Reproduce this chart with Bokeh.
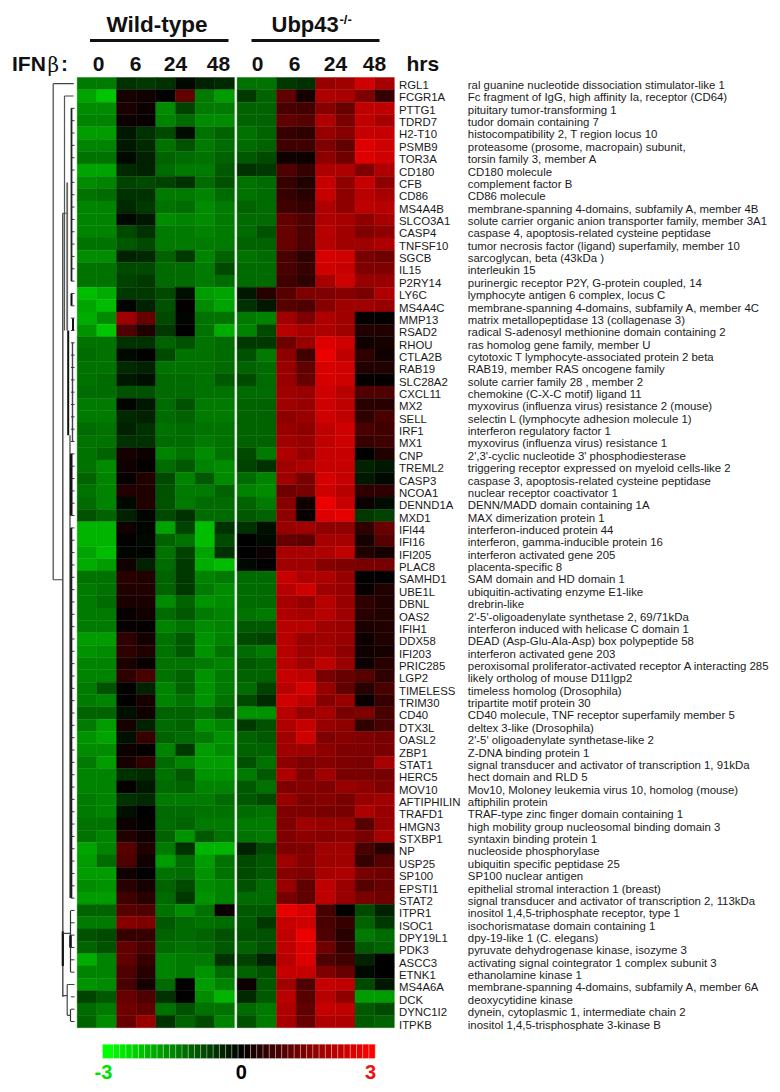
from bokeh.plotting import figure
from bokeh.models import Range1d, ColumnDataSource
from bokeh.transform import linear_cmap
from bokeh.core.properties import value
from bokeh.embed import file_html
from bokeh.resources import INLINE

genes = ["RGL1","FCGR1A","PTTG1","TDRD7","H2-T10","PSMB9","TOR3A","CD180","CFB","CD86","MS4A4B","SLCO3A1","CASP4","TNFSF10","SGCB","IL15","P2RY14","LY6C","MS4A4C","MMP13","RSAD2","RHOU","CTLA2B","RAB19","SLC28A2","CXCL11","MX2","SELL","IRF1","MX1","CNP","TREML2","CASP3","NCOA1","DENND1A","MXD1","IFI44","IFI16","IFI205","PLAC8","SAMHD1","UBE1L","DBNL","OAS2","IFIH1","DDX58","IFI203","PRIC285","LGP2","TIMELESS","TRIM30","CD40","DTX3L","OASL2","ZBP1","STAT1","HERC5","MOV10","AFTIPHILIN","TRAFD1","HMGN3","STXBP1","NP","USP25","SP100","EPSTI1","STAT2","ITPR1","ISOC1","DPY19L1","PDK3","ASCC3","ETNK1","MS4A6A","DCK","DYNC1I2","ITPKB"]

descriptions = ["ral guanine nucleotide dissociation stimulator-like 1","Fc fragment of IgG, high affinity Ia, receptor (CD64)","pituitary tumor-transforming 1","tudor domain containing 7","histocompatibility 2, T region locus 10","proteasome (prosome, macropain) subunit,","torsin family 3, member A","CD180 molecule","complement factor B","CD86 molecule","membrane-spanning 4-domains, subfamily A, member 4B","solute carrier organic anion transporter family, member 3A1","caspase 4, apoptosis-related cysteine peptidase","tumor necrosis factor (ligand) superfamily, member 10","sarcoglycan, beta (43kDa )","interleukin 15","purinergic receptor P2Y, G-protein coupled, 14","lymphocyte antigen 6 complex, locus C","membrane-spanning 4-domains, subfamily A, member 4C","matrix metallopeptidase 13 (collagenase 3)","radical S-adenosyl methionine domain containing 2","ras homolog gene family, member U","cytotoxic T lymphocyte-associated protein 2 beta","RAB19, member RAS oncogene family","solute carrier family 28 , member 2","chemokine (C-X-C motif) ligand 11","myxovirus (influenza virus) resistance 2 (mouse)","selectin L (lymphocyte adhesion molecule 1)","interferon regulatory factor 1","myxovirus (influenza virus) resistance 1","2',3'-cyclic nucleotide 3' phosphodiesterase","triggering receptor expressed on myeloid cells-like 2","caspase 3, apoptosis-related cysteine peptidase","nuclear receptor coactivator 1","DENN/MADD domain containing 1A","MAX dimerization protein 1","interferon-induced protein 44","interferon, gamma-inducible protein 16","interferon activated gene 205","placenta-specific 8","SAM domain and HD domain 1","ubiquitin-activating enzyme E1-like","drebrin-like","2'-5'-oligoadenylate synthetase 2, 69/71kDa","interferon induced with helicase C domain 1","DEAD (Asp-Glu-Ala-Asp) box polypeptide 58","interferon activated gene 203","peroxisomal proliferator-activated receptor A interacting 285","likely ortholog of mouse D11lgp2","timeless homolog (Drosophila)","tripartite motif protein 30","CD40 molecule, TNF receptor superfamily member 5","deltex 3-like (Drosophila)","2'-5' oligoadenylate synthetase-like 2","Z-DNA binding protein 1","signal transducer and activator of transcription 1, 91kDa","hect domain and RLD 5","Mov10, Moloney leukemia virus 10, homolog (mouse)","aftiphilin protein","TRAF-type zinc finger domain containing 1","high mobility group nucleosomal binding domain 3","syntaxin binding protein 1","nucleoside phosphorylase","ubiquitin specific peptidase 25","SP100 nuclear antigen","epithelial stromal interaction 1 (breast)","signal transducer and activator of transcription 2, 113kDa","inositol 1,4,5-triphosphate receptor, type 1","isochorismatase domain containing 1","dpy-19-like 1 (C. elegans)","pyruvate dehydrogenase kinase, isozyme 3","activating signal cointegrator 1 complex subunit 3","ethanolamine kinase 1","membrane-spanning 4-domains, subfamily A, member 6A","deoxycytidine kinase","dynein, cytoplasmic 1, intermediate chain 2","inositol 1,4,5-trisphosphate 3-kinase B"]

time_labels = ["0", "6", "24", "48"]

wild_type_values = [
[-1.5,-1.5,-0.6,-0.7,-0.6,-0.1,-0.4,-0.5],
[-2.0,-2.4,0.3,0.2,0,1.2,-1.5,-1.9],
[-1.7,-1.7,0.35,0.15,-1.7,-0.8,-1.5,-1.5],
[-1.6,-1.6,0.15,0.1,-1.6,-1.3,-1.7,-1.7],
[-1.9,-1.9,-0.3,-0.6,-0.9,-0.15,-1.4,-1.2],
[-1.6,-1.6,-0.3,-0.5,-1.4,-1.0,-1.5,-1.3],
[-1.4,-1.4,-0.1,-0.4,-1.2,-1.3,-1.4,-1.2],
[-2.0,-2.0,-0.5,-0.4,-1.3,-1.5,-1.5,-1.1],
[-1.7,-1.6,-0.8,-0.9,-0.8,-0.6,-1.3,-1.0],
[-1.4,-1.3,-0.6,-0.6,-1.5,-1.5,-1.6,-1.3],
[-1.6,-1.6,-0.5,-0.7,-1.4,-1.3,-1.7,-1.5],
[-1.6,-1.6,-0.1,-0.3,-1.7,-1.6,-1.7,-1.5],
[-1.6,-1.6,-0.9,-0.6,-1.5,-1.5,-1.6,-1.5],
[-1.4,-1.4,-1.1,-0.9,-1.5,-1.5,-1.5,-1.5],
[-1.7,-1.7,-0.4,-0.5,-1.2,-0.7,-1.6,-1.2],
[-1.4,-1.4,-0.9,-0.9,-1.3,-1.3,-1.5,-0.9],
[-1.4,-1.4,-0.8,-0.7,-1.3,-1.3,-1.5,-1.3],
[-2.3,-2.1,-0.7,-0.7,-0.9,-0.2,-1.9,-2.0],
[-2.0,-2.3,-0.05,-0.4,-1.0,0.05,-1.7,-2.0],
[-2.1,-1.7,2.0,1.3,-0.9,-0.05,-1.4,-1.4],
[-1.8,-2.4,1.0,0.4,-0.7,0,-1.4,-2.1],
[-1.4,-1.4,-0.6,-0.6,-1.2,-1.0,-1.4,-1.3],
[-1.3,-1.4,-0.1,0.02,-0.9,-1.4,-1.4,-1.3],
[-1.4,-1.4,-0.5,-0.4,-1.4,-1.4,-1.4,-1.3],
[-1.4,-1.3,-0.3,-0.2,-1.3,-1.3,-1.4,-1.1],
[-1.3,-1.3,-1.0,-1.0,-1.3,-1.3,-1.4,-1.4],
[-1.5,-1.5,-0.05,-0.3,-1.3,-1.0,-1.5,-1.5],
[-1.5,-1.5,-0.5,-0.4,-1.3,-1.2,-1.5,-1.5],
[-1.3,-1.4,-0.4,-0.6,-1.4,-1.3,-1.4,-1.4],
[-1.4,-1.4,-0.6,-0.6,-1.3,-1.3,-1.5,-1.4],
[-1.4,-1.2,0.3,0.15,-1.6,-1.4,-1.7,-1.4],
[-1.4,-1.7,0.2,0.05,-1.3,-1.1,-1.6,-1.7],
[-1.2,-1.6,0.1,0.4,-0.9,-1.6,-1.1,-1.7],
[-1.4,-1.6,0.4,0.4,-1.0,-1.5,-1.5,-1.2],
[-1.3,-1.6,-0.1,0.4,-1.0,-1.5,-1.3,-1.3],
[-1.0,-1.2,-0.4,-0.05,-0.9,-0.6,-1.3,-1.3],
[-2.2,-2.2,0.2,-0.05,-2.0,-0.8,-2.3,-0.6],
[-2.2,-2.2,0.05,-0.1,-1.2,-1.4,-2.3,-0.9],
[-2.0,-2.3,-0.05,-0.05,-1.4,-0.8,-2.0,-0.6],
[-2.1,-1.9,0.2,-0.4,-1.3,-0.7,-2.1,-2.3],
[-1.4,-1.4,0.5,0.4,-1.2,-0.7,-1.6,-1.5],
[-1.5,-1.4,0.4,0.4,-1.2,-0.7,-1.5,-1.7],
[-1.5,-1.3,0.35,0.35,-1.7,-1.2,-1.8,-1.7],
[-1.5,-1.5,0.1,0.2,-1.3,-1.1,-1.5,-1.6],
[-1.5,-1.5,0.1,0.03,-1.6,-1.4,-1.7,-1.6],
[-1.9,-1.9,0.6,0.25,-1.4,-1.1,-1.8,-1.6],
[-1.8,-1.7,0.6,0.4,-1.4,-1.1,-1.8,-1.4],
[-1.6,-1.6,0.35,0.1,-1.4,-1.4,-1.5,-1.6],
[-1.6,-1.6,0.6,0.9,-1.4,-1.2,-1.8,-1.5],
[-1.5,-1.0,0.03,-0.4,-1.6,-1.2,-1.8,-1.5],
[-1.5,-1.6,0.03,0.3,-1.6,-1.4,-1.8,-1.4],
[-1.2,-1.2,-0.2,0.2,-1.2,-1.2,-1.4,-1.1],
[-1.5,-1.9,0.3,-0.4,-1.3,-1.2,-1.8,-1.6],
[-1.8,-2.0,-0.2,0.7,-1.2,-1.3,-1.5,-1.8],
[-1.7,-1.7,0.15,0.05,-1.6,-0.7,-1.9,-1.7],
[-1.5,-1.9,0.3,0.6,-1.3,-1.6,-1.9,-1.9],
[-1.6,-1.6,-0.6,-0.5,-1.4,-1.1,-1.8,-1.8],
[-1.6,-1.6,0.05,-0.3,-1.3,-1.2,-1.6,-1.6],
[-1.5,-1.6,-0.6,-0.5,-1.5,-1.5,-1.5,-1.3],
[-1.5,-1.6,-0.2,0,-1.3,-1.3,-1.4,-1.4],
[-1.4,-1.4,0.15,0.03,-1.3,-1.2,-1.5,-1.5],
[-1.4,-1.6,0.4,0.2,-1.2,-1.8,-1.1,-1.4],
[-2.0,-1.6,1.1,0.4,-1.5,-0.6,-2.2,-2.2],
[-1.9,-1.3,1.0,0.2,-1.9,-1.3,-1.9,-1.4],
[-1.9,-1.9,0.2,0.02,-1.4,-1.3,-1.8,-1.4],
[-1.7,-1.8,0.5,0.3,-1.2,-0.9,-1.7,-1.6],
[-1.9,-1.9,0.8,0.5,-1.3,-0.7,-1.8,-1.6],
[-1.2,-1.2,1.1,1.0,-1.4,-1.7,-1.4,0.15],
[-1.5,-1.5,1.7,1.6,-1.1,-1.3,-1.4,-1.3],
[-1.0,-0.9,0.7,0.7,-1.2,-1.3,-1.2,-1.0],
[-1.2,-1.0,1.2,0.9,-1.3,-1.4,-1.3,-1.1],
[-2.1,-1.6,1.2,0.7,-1.6,-1.5,-1.5,-0.6],
[-1.6,-1.6,1.0,0.5,-1.6,-1.5,-1.8,-1.3],
[-1.8,-1.7,0.9,0.3,-1.3,0,-1.9,-1.6],
[-0.8,-1.1,1.3,1.0,-0.6,0,-1.7,-2.2],
[-1.3,-1.5,1.4,1.2,-1.4,-1.0,-1.4,-1.4],
[-1.2,-1.7,1.3,1.9,-0.6,-1.2,-0.9,-1.6],
]

ubp43_values = [
[-1.4,-1.4,-0.7,-0.6,1.9,2.0,2.6,2.1],
[-0.7,-1.2,1.2,0.3,2.2,2.1,1.6,0.7],
[-1.2,-1.2,0.9,0.85,1.7,1.3,2.4,2.4],
[-1.2,-1.2,1.2,1.1,2.2,1.5,2.4,2.1],
[-1.4,-1.2,0.7,0.6,1.9,1.7,2.5,2.5],
[-1.3,-1.2,0.8,0.8,1.6,1.2,2.8,2.6],
[-1.1,-0.9,0.2,0.15,1.8,1.4,2.8,2.6],
[-0.6,-0.7,1.0,0.7,2.2,2.2,1.6,2.2],
[-1.4,-1.3,0.7,0.4,2.5,1.8,2.5,1.8],
[-1.4,-1.3,0.7,0.5,2.5,1.8,2.3,2.1],
[-1.2,-1.3,0.8,0.7,2.2,1.8,2.4,2.3],
[-1.3,-1.3,1.2,1.0,2.2,2.1,1.8,2.1],
[-1.3,-1.0,1.3,1.0,2.3,2.0,1.6,1.8],
[-1.2,-1.2,1.3,1.0,2.3,2.0,2.0,2.2],
[-1.4,-1.3,0.9,0.6,2.7,2.6,1.5,1.4],
[-1.3,-1.3,0.9,0.7,2.6,2.5,1.6,1.6],
[-1.3,-1.3,0.8,0.6,2.1,2.6,1.9,1.9],
[-0.3,0.5,1.1,1.6,1.6,1.7,1.5,2.2],
[-0.6,-0.3,1.1,1.0,1.7,2.0,2.0,1.9],
[-1.5,-1.6,2.0,1.6,2.2,2.0,0.05,0.05],
[-1.6,-0.9,2.3,2.1,2.2,2.0,0.4,0.4],
[-0.7,-0.7,1.4,1.9,2.8,2.6,0.2,0.3],
[-1.0,-1.5,1.8,0.8,3.0,2.4,0.6,0.2],
[-1.2,-1.3,1.9,1.2,2.7,2.6,0.4,0.4],
[-0.9,-1.3,1.9,1.3,2.7,2.6,0.05,0.05],
[-1.3,-1.3,2.0,1.9,2.6,2.3,1.0,1.0],
[-1.2,-1.2,2.0,1.9,2.6,2.4,0.5,0.5],
[-1.2,-1.2,1.8,1.9,2.6,2.4,0.6,0.9],
[-1.2,-1.2,1.9,1.8,2.4,2.6,0.9,0.8],
[-1.2,-1.2,2.0,1.9,2.4,2.6,0.7,0.8],
[-0.9,-1.5,2.2,1.9,2.5,2.5,0.02,0.4],
[-0.8,-0.6,2.0,2.2,2.5,2.5,-0.4,-0.3],
[-1.3,-1.6,2.0,1.5,2.7,2.5,-0.3,-0.1],
[-1.6,-1.7,1.4,1.5,2.6,2.3,0.6,0.6],
[-1.2,-1.5,1.7,0.2,3.0,2.5,0.15,-0.15],
[-1.1,-1.2,1.8,0.1,2.8,2.9,-0.7,-0.8],
[-0.6,-0.2,1.9,2.0,1.8,1.8,0.6,1.3],
[0,-0.1,1.3,1.2,2.1,2.1,0.3,1.1],
[0,0.15,2.1,2.1,2.2,2.4,0.4,0.3],
[-0.1,0,2.0,2.0,1.7,1.6,1.5,1.5],
[-1.3,-1.3,2.5,2.2,2.2,1.9,0,0],
[-1.3,-1.3,2.3,2.6,2.0,1.9,0.1,0.4],
[-1.3,-1.3,2.1,1.9,2.3,1.9,0.6,0.4],
[-1.4,-1.5,2.2,2.1,2.3,2.0,0.5,0.4],
[-1.1,-1.1,2.3,2.3,2.0,1.9,0.35,0.4],
[-0.9,-0.8,2.3,1.9,2.0,1.9,0.15,0.4],
[-1.3,-1.5,2.3,2.0,2.1,1.8,0.2,0.3],
[-1.1,-1.2,2.3,2.0,2.4,1.9,0.15,0.5],
[-1.2,-1.2,2.5,2.4,1.5,1.3,1.1,0.6],
[-1.3,-0.8,2.3,2.7,1.9,1.2,0.5,0.9],
[-0.9,-0.5,2.6,2.4,1.7,1.9,0.1,0.7],
[-1.8,-1.8,2.3,1.9,2.1,1.5,1.6,0.9],
[-0.7,-1.0,2.2,2.5,1.9,1.8,0.6,0.9],
[-1.2,-1.1,2.0,2.6,1.6,1.7,1.6,1.5],
[-1.2,-1.2,2.0,2.0,1.8,1.6,1.6,1.5],
[-1.0,-1.4,1.8,1.6,1.7,1.6,1.5,2.1],
[-1.5,-1.1,2.2,1.6,2.0,1.5,1.5,1.5],
[-1.1,-1.4,1.6,1.7,1.6,1.9,1.8,1.6],
[-1.1,-0.9,1.9,1.6,1.7,1.5,1.9,2.0],
[-1.3,-1.4,1.6,1.6,1.5,1.5,2.2,1.9],
[-1.5,-1.5,1.6,2.0,1.9,1.9,1.1,1.9],
[-1.4,-1.5,1.6,1.8,1.7,1.8,1.5,2.1],
[-0.4,-0.9,1.6,1.6,2.0,2.0,0.9,0.5],
[-0.9,-1.1,2.0,1.7,2.0,2.0,0.7,1.1],
[-0.9,-1.1,1.7,1.6,2.1,2.2,1.5,1.4],
[-1.0,-1.3,1.9,1.2,2.4,1.9,1.1,1.3],
[-1.3,-1.3,1.5,1.2,2.4,1.9,1.5,1.4],
[-1.1,-1.1,2.9,2.7,0.9,0.05,-0.9,-0.4],
[-1.1,-0.7,2.5,2.6,0.9,0.7,-1.2,-0.7],
[-1.0,-1.0,2.4,3.0,1.0,0.5,-1.5,-1.3],
[-1.2,-1.0,2.4,2.8,1.4,0.7,-1.1,-1.2],
[-0.8,-0.4,2.3,2.8,1.0,0.8,-0.4,0],
[-1.2,-1.0,2.5,2.5,1.6,1.3,-0.1,0],
[0.15,-1.1,2.0,1.0,2.5,2.4,-0.9,-0.3],
[-0.5,-1.1,2.3,1.1,2.3,1.8,-1.9,-1.9],
[-1.3,-1.5,2.2,1.2,2.5,2.4,-1.1,-0.9],
[-1.0,-1.5,2.1,1.3,2.2,2.2,-1.1,-1.2],
]

# dendrogram: (height in px from the page left, first row, last row, width, colour)
dendro_verticals = [
(52.7,0,40.2,1.2,"#444444"),(62.3,10.5,74,1.4,"#444444"),(62.3,68.7,71.5,2.2,"#111111"),
(64,1,20,1.2,"#555555"),(66.7,8,20,1.8,"#666666"),(67.7,20,28.5,2.0,"#111111"),
(69.5,28.5,66,1.4,"#555555"),(71,2,16,1.8,"#222222"),(71,17,18,2.0,"#111111"),
(72.5,19,20,2.0,"#111111"),(72,21,29,1.4,"#444444"),(70.7,30,35,2.6,"#111111"),
(70.7,36,66,2.2,"#1a1a1a"),(70,67,72,1.2,"#333333"),(70,69,70,2.6,"#111111"),
(66.7,73,75.5,1.2,"#444444"),(70,75,76,1.2,"#333333"),
]
dendro_horizontals = [
(0,52.7,73.3),(40.2,52.7,62.3),(10.5,62.3,66),(1,64,73),(68.85,62.3,70),(73.9,62.3,66.7),(73,66.7,74),(75.5,66.7,70),
]

COL_LEFT, COL_W = 76.7, 19.65
ROW_TOP, ROW_H = 77.0, 12.34
W, H = 772, 1084
def px(x): return (x - COL_LEFT) / COL_W
def py(y): return (y - ROW_TOP) / ROW_H
FONT = value("Liberation Sans")

def make_palette(red_gain, green_gain):
    out = []
    for i in range(256):
        t = i / 255 * 2 - 1
        if t > 0:
            out.append("#%02x0000" % round(t * 255 * red_gain))
        else:
            out.append("#00%02x00" % round(-t * 255 * green_gain))
    return out

palette = make_palette(1.0, 1.0)
heat_palette = make_palette(0.93, 0.96)

p = figure(width=W, height=H, output_backend="svg", toolbar_location=None, min_border=0,
           x_range=Range1d(px(0), px(W)),
           y_range=Range1d(py(H), py(0)))
p.axis.visible = False
p.grid.visible = False
p.outline_line_color = None
p.background_fill_color = "white"

KO_START = 8.14
xs, ys, vs = [], [], []
for r in range(len(genes)):
    for c, v in enumerate(wild_type_values[r]):
        xs.append(c + 0.5); ys.append(r + 0.5); vs.append(v)
    for c, v in enumerate(ubp43_values[r]):
        xs.append(KO_START + c + 0.5); ys.append(r + 0.5); vs.append(v)
heat = ColumnDataSource(dict(x=xs, y=ys, v=vs))
cmap = linear_cmap("v", heat_palette, -3, 3)
p.rect("x", "y", width=1, height=1, source=heat, fill_color=cmap, line_color=cmap, line_width=0.4)

# dendrogram
p.segment([px(v[0]) for v in dendro_verticals], [v[1] + 0.5 for v in dendro_verticals],
          [px(v[0]) for v in dendro_verticals], [v[2] + 0.5 for v in dendro_verticals],
          line_width=[v[3] for v in dendro_verticals], line_color=[v[4] for v in dendro_verticals])
p.segment([px(h[1]) for h in dendro_horizontals], [h[0] + 0.5 for h in dendro_horizontals],
          [px(h[2]) for h in dendro_horizontals], [h[0] + 0.5 for h in dendro_horizontals],
          line_width=1.2, line_color="#444444")
leaf_rows = list(range(2, 73)) + [74, 75, 76]
p.segment([px(70.5)] * len(leaf_rows), [r + 0.5 for r in leaf_rows],
          [px(74)] * len(leaf_rows), [r + 0.5 for r in leaf_rows], line_width=1, line_color="#333333")

# gene labels: their line pitch differs slightly from the row pitch
rows_y = [py(84.5 + 12.362 * r) for r in range(len(genes))]
p.text([px(398.5)] * len(genes), rows_y, text=genes, text_font=FONT, text_font_size="11.4px",
       text_baseline="middle", text_color="#1a1a1a")
p.text([px(467.3)] * len(genes), rows_y, text=descriptions, text_font=FONT, text_font_size="11.4px",
       text_baseline="middle", text_color="#1a1a1a")

# header
p.segment([px(89.5), px(251)], [py(40)] * 2, [px(228), px(379)], [py(40)] * 2, line_width=3, line_color="#111111")
p.text([px(156.5)], [py(24)], text=["Wild-type"], text_font=FONT, text_font_style="bold", text_font_size="22.5px",
       text_align="center", text_baseline="middle", text_color="#111111")
p.text([px(271)], [py(24)], text=["Ubp43"], text_font=FONT, text_font_style="bold", text_font_size="22px",
       text_baseline="middle", text_color="#111111")
p.text([px(339)], [py(19)], text=["-/-"], text_font=FONT, text_font_style="bold", text_font_size="13px",
       text_baseline="middle", text_color="#111111")
p.text([px(11.5)], [py(63)], text=["IFN"], text_font=FONT, text_font_style="bold", text_font_size="21px",
       text_baseline="middle", text_color="#111111")
p.text([px(47)], [py(64)], text=["\u03b2"], text_font=value("DejaVu Serif"), text_font_size="20px",
       text_baseline="middle", text_color="#111111")
p.text([px(60.5)], [py(63)], text=[":"], text_font=FONT, text_font_style="bold", text_font_size="21px",
       text_baseline="middle", text_color="#111111")
time_x = [98, 135, 175, 218, 257, 294, 335, 374]
p.text([px(x) for x in time_x], [py(63)] * 8, text=time_labels * 2, text_font=FONT, text_font_style="bold",
       text_font_size="21px", text_align="center", text_baseline="middle", text_color="#111111")
p.text([px(406)], [py(63)], text=["hrs"], text_font=FONT, text_font_style="bold", text_font_size="21px",
       text_baseline="middle", text_color="#111111")

# colour scale: one wide first step, then equal steps
n_steps = 43
left, first_w, step_w = 102.0, 11.0, (374.7 - 113.0) / 42
bar_left = [left] + [left + first_w + step_w * i for i in range(42)]
bar_right = [left + first_w] + [left + first_w + step_w * (i + 1) for i in range(42)]
bar_val = [-3 + 6 * i / (n_steps - 1) for i in range(n_steps)]
bar = ColumnDataSource(dict(l=[px(v) for v in bar_left], r=[px(v) for v in bar_right],
                            t=[py(1043.7)] * n_steps, b=[py(1058)] * n_steps, v=bar_val))
p.quad(left="l", right="r", top="t", bottom="b", source=bar, fill_color=linear_cmap("v", palette, -3, 3),
       line_color="white", line_alpha=0.35, line_width=0.8)
p.text([px(103), px(240.7), px(370)], [py(1071.5)] * 3, text=["-3", "0", "3"], text_font=FONT, text_font_style="bold",
       text_font_size="20px", text_align="center", text_baseline="middle",
       text_color=["#00e000", "#000000", "#f01010"])

open("out.html", "w").write(file_html(p, INLINE))
